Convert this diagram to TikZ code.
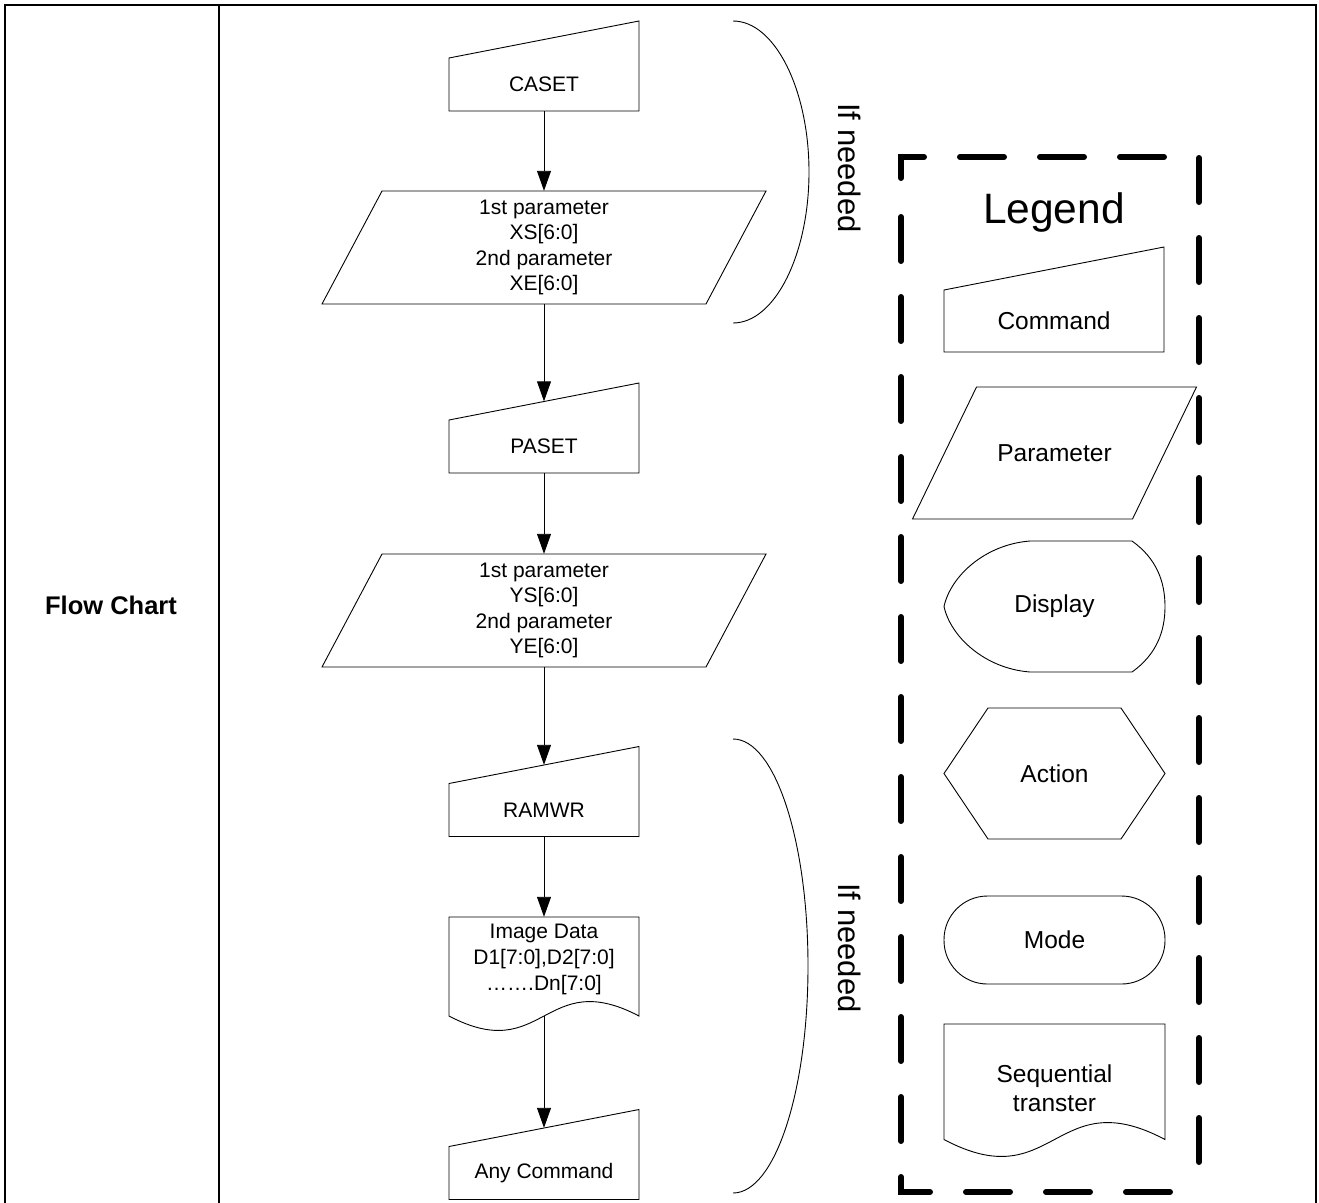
\documentclass[tikz,border=0pt]{standalone}
\usepackage{fontspec}
\setmainfont{Liberation Sans}
\usetikzlibrary{arrows.meta,calc}
\begin{document}
\begin{tikzpicture}[x=1pt,y=-1pt,
  tbl/.style={line width=2.5pt},
  shp/.style={line width=0.9pt},
  arr/.style={line width=0.9pt,-{Triangle[length=20pt,width=14pt]}},
  ftxt/.style={font=\fontsize{21}{25.5}\selectfont, align=center, inner sep=0pt},
  ltxt/.style={font=\fontsize{24.5}{28.5}\selectfont, align=center, inner sep=0pt},
  lgd/.style={line width=6pt, line cap=round, dash pattern=on 44pt off 36pt}]
\useasboundingbox (0,0) rectangle (1319,1202);

% table frame
\draw[tbl] (5,1210) -- (5,5) -- (1316,5) -- (1316,1210);
\draw[tbl] (219,5) -- (219,1210);
\node[font=\bfseries\fontsize{25.5}{30}\selectfont] (fc) at (111,605) {Flow Chart};

% flow chart
\node[ftxt, minimum width=190pt, minimum height=53pt] (caset) at (544,84.5) {CASET};
\draw[shp, shift={(caset.center)}] (-95,26.5) -- (-95,-26.5) -- (95,-63.5) -- (95,26.5) -- cycle;

\node[ftxt, minimum width=384pt, minimum height=113pt] (p1) at (544,247.5) {1st parameter\\XS[6:0]\\2nd parameter\\XE[6:0]};
\draw[shp, shift={(p1.center)}] (-222,56.5) -- (162,56.5) -- (222,-56.5) -- (-162,-56.5) -- cycle;

\node[ftxt, minimum width=190pt, minimum height=53pt] (paset) at (544,446.5) {PASET};
\draw[shp, shift={(paset.center)}] (-95,26.5) -- (-95,-26.5) -- (95,-63.5) -- (95,26.5) -- cycle;

\node[ftxt, minimum width=384pt, minimum height=113pt] (p2) at (544,610.5) {1st parameter\\YS[6:0]\\2nd parameter\\YE[6:0]};
\draw[shp, shift={(p2.center)}] (-222,56.5) -- (162,56.5) -- (222,-56.5) -- (-162,-56.5) -- cycle;

\node[ftxt, minimum width=190pt, minimum height=53pt] (ramwr) at (544,810) {RAMWR};
\draw[shp, shift={(ramwr.center)}] (-95,26.5) -- (-95,-26.5) -- (95,-63.5) -- (95,26.5) -- cycle;

\node[ftxt, font=\fontsize{21}{26}\selectfont, minimum width=190pt, minimum height=84pt] (img) at (544,959) {Image Data\\D1[7:0],D2[7:0]\\…….Dn[7:0]};
\draw[shp, shift={(img.center)}] (-95,-42) -- (95,-42) -- (95,57) .. controls (0,7) and (0,107) .. (-95,57) -- cycle;

\node[ftxt, minimum width=190pt, minimum height=53pt] (anycmd) at (544,1173) {Any Command};
\draw[shp, shift={(anycmd.center)}] (-95,26.5) -- (-95,-26.5) -- (95,-63.5) -- (95,26.5) -- cycle;

\draw[arr] (caset.south) -- (p1.north);
\draw[arr] (p1.south) -- ($(paset.north)+(0,-18.5)$);
\draw[arr] (paset.south) -- (p2.north);
\draw[arr] (p2.south) -- ($(ramwr.north)+(0,-18.5)$);
\draw[arr] (ramwr.south) -- (img.north);
\draw[arr] ($(img.south)+(0,15)$) -- ($(anycmd.north)+(0,-18.5)$);

% braces
\draw[shp] (733,21) .. controls (775,21) and (809,90) .. (809,172) .. controls (809,254) and (775,323) .. (733,323);
\draw[shp] (733,739) .. controls (775,739) and (808,841) .. (808,966) .. controls (808,1091) and (775,1193) .. (733,1193);
\node[font=\fontsize{31}{36}\selectfont, rotate=-90] (if1) at (850,168) {If needed};
\node[font=\fontsize{31}{36}\selectfont, rotate=-90] (if2) at (850,948) {If needed};

% legend
\draw[lgd] (901,178) -- (901,157) -- (1199,157) -- (1199,1192);
\draw[lgd] (930,1192) -- (901,1192) -- (901,200);
\draw[lgd, dash phase=44pt] (930,1192) -- (1199,1192);
\node[font=\fontsize{42.5}{50}\selectfont] (legtitle) at (1054,213) {Legend};

\node[ltxt, minimum width=220pt, minimum height=62pt] (lcmd) at (1054,321) {Command};
\draw[shp, shift={(lcmd.center)}] (-110,31) -- (-110,-31) -- (110,-74) -- (110,31) -- cycle;

\node[ltxt, minimum width=220pt, minimum height=132pt] (lpar) at (1054.5,453) {Parameter};
\draw[shp, shift={(lpar.center)}] (-142,66) -- (78,66) -- (142,-66) -- (-78,-66) -- cycle;

\node[ltxt, minimum width=221pt, minimum height=131pt] (ldisp) at (1054.5,606.5) {Display};
\draw[shp, shift={(ldisp.center)}] (-24.5,-65.5) -- (77.5,-65.5)
  .. controls (102,-48) and (110.5,-25) .. (110.5,0)
  .. controls (110.5,25) and (102,48) .. (77.5,65.5)
  -- (-24.5,65.5)
  .. controls (-70,62) and (-104,30) .. (-110.5,0)
  .. controls (-104,-30) and (-70,-62) .. cycle;

\node[ltxt, minimum width=221pt, minimum height=131pt] (lact) at (1054.5,773.5) {Action};
\draw[shp, shift={(lact.center)}] (-110.5,0) -- (-66.5,-65.5) -- (66.5,-65.5) -- (110.5,0) -- (66.5,65.5) -- (-66.5,65.5) -- cycle;

\node[ltxt, draw, shp, rounded corners=43.5pt, minimum width=221pt, minimum height=88pt] (lmode) at (1054.5,940) {Mode};

\node[ltxt, minimum width=221pt, minimum height=100pt] (lseq) at (1054.5,1088) {Sequential\\transter};
\draw[shp, shift={(lseq.center)}] (-110.5,-64) -- (110.5,-64) -- (110.5,51.5) .. controls (0,-7.2) and (0,110.2) .. (-110.5,51.5) -- cycle;
\end{tikzpicture}
\end{document}
